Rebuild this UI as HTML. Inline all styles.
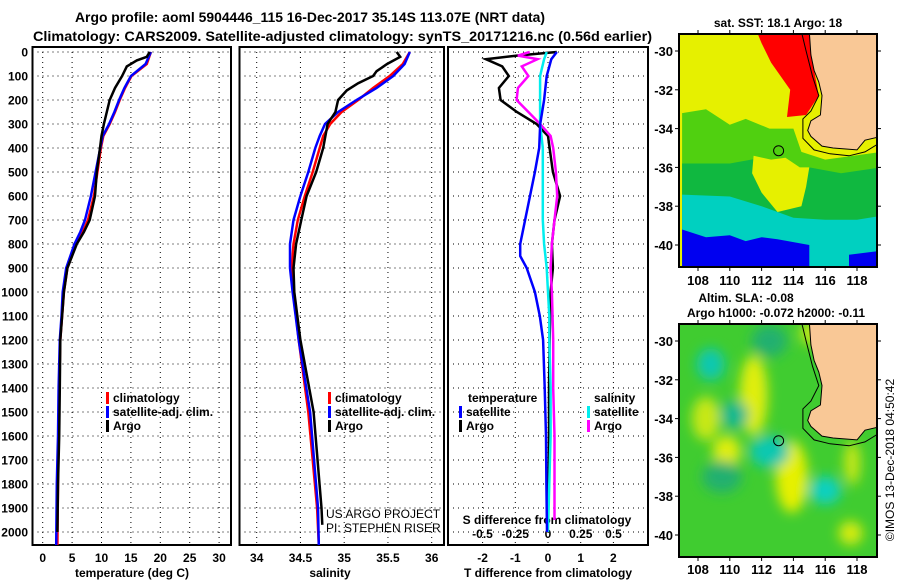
<!DOCTYPE html>
<html><head><meta charset="utf-8"><style>
html,body{margin:0;padding:0;background:#fff;}
svg text{font-family:"Liberation Sans",sans-serif;}
</style></head><body>
<svg id="chart" width="900" height="580" viewBox="0 0 900 580" xmlns="http://www.w3.org/2000/svg">
<text x="75" y="22" font-size="14" font-weight="bold" textLength="470" lengthAdjust="spacingAndGlyphs">Argo profile: aoml 5904446_115 16-Dec-2017 35.14S 113.07E (NRT data)</text>
<text x="33" y="41" font-size="14" font-weight="bold" textLength="619" lengthAdjust="spacingAndGlyphs">Climatology: CARS2009. Satellite-adjusted climatology: synTS_20171216.nc (0.56d earlier)</text>
<g id="g"></g>
</svg>
<script>
// ---- data ----
const depthTicks=[0,100,200,300,400,500,600,700,800,900,1000,1100,1200,1300,1400,1500,1600,1700,1800,1900,2000];
const tTicks=[0,5,10,15,20,25,30];
const sTicks=[34,34.5,35,35.5,36];
const sTickLabels=["34","34.5","35","35.5","36"];
const dTTicks=[-2,-1,0,1,2];
const dSTicks=[-0.5,-0.25,0,0.25,0.5];
const dSTickLabels=["-0.5","-0.25","0","0.25","0.5"];

const tArgoDepth=[0,20,35,60,100,150,200,250,300,350,400,500,600,700,750,800,900,1000,1100,1200,1400,1600,1800,2000];
const tArgo=[18.2,17.7,16,14.3,13.5,12.3,11.4,10.9,10.4,10,9.75,9.2,8.9,8.0,7.0,5.8,4.2,3.6,3.3,3.0,2.9,2.8,2.6,2.5];
const tClimDepth=[0,50,100,150,200,250,300,350,400,500,600,700,750,800,900,1000,1100,1200,1400,1600,1800,2054];
const tClim=[18.4,17.7,15.1,14,13.1,12.3,11.4,10.3,9.9,9.3,8.7,7.7,6.8,5.7,4.2,3.6,3.3,3.0,2.8,2.7,2.6,2.5];
const tSat=[18.4,17.5,15,13.9,13,12.2,11.3,10.2,9.8,9.0,8.2,7.2,6.4,5.4,4.0,3.4,3.2,2.9,2.7,2.6,2.4,2.3];

const sArgoDepth=[0,20,50,80,100,130,160,200,250,300,400,450,500,600,700,800,900,1000,1200,1500,1900,1970];
const sArgo=[35.6,35.64,35.49,35.37,35.33,35.16,35.03,34.93,34.9,34.81,34.76,34.72,34.68,34.57,34.51,34.45,34.42,34.43,34.5,34.65,34.74,34.75];
const sClimDepth=[0,50,100,150,200,250,300,350,400,500,600,700,800,900,1000,1200,1500,1900,2054];
const sClim=[35.75,35.67,35.52,35.33,35.16,34.97,34.84,34.76,34.72,34.64,34.55,34.47,34.42,34.4,34.42,34.48,34.59,34.69,34.71];
const sSat=[35.75,35.69,35.56,35.37,35.14,34.93,34.78,34.72,34.67,34.59,34.5,34.42,34.38,34.38,34.41,34.48,34.61,34.7,34.71];

const dDepthA=[0,15,30,60,100,150,200,250,300,350,400,500,600,700,800,900,1000,1200,1400,1600,1800,1950];
const dTArgo=[0.27,-0.95,-1.9,-1.4,-1.2,-1.5,-1.45,-0.95,-0.35,0,0.05,0.15,0.37,0.2,0.12,0.15,0.08,0.05,0.03,0.03,0.02,0.0];
const dSArgo=[-0.14,-0.23,-0.08,-0.2,-0.15,-0.23,-0.24,-0.15,-0.06,0.02,0.04,0.06,0.07,0.05,0.03,0.02,0.03,0.04,0.04,0.05,0.05,0.05];
const dDepthS=[0,30,100,200,300,400,500,600,700,800,850,900,1000,1100,1200,1400,1600,1800,2000];
const dTSat=[0.27,0.1,-0.04,-0.12,-0.24,-0.27,-0.4,-0.55,-0.7,-0.85,-0.85,-0.65,-0.4,-0.25,-0.15,-0.1,-0.06,-0.05,-0.03];
const dSSat=[-0.01,-0.03,-0.06,-0.06,-0.06,-0.04,-0.04,-0.04,-0.04,-0.03,-0.02,-0.01,0.0,0.01,0.01,0.02,0.02,0.01,0.0];

const lonTicks=[108,110,112,114,116,118];
const latTicks=[-30,-32,-34,-36,-38,-40];

// ---- helpers ----
const NS="http://www.w3.org/2000/svg";
const G=document.getElementById('g');
function el(tag,attrs,parent){const e=document.createElementNS(NS,tag);for(const k in attrs)e.setAttribute(k,attrs[k]);(parent||G).appendChild(e);return e;}
function txt(s,x,y,opts,parent){const t=el('text',Object.assign({x:x,y:y,'font-size':12,'font-weight':'bold'},opts||{}),parent);t.textContent=s;return t;}

const TOP=52,BOT=545,PPD=0.24;
const yD=d=>TOP+d*PPD;
const xT=t=>42.7+5.88*t;
const xS=s=>256.7+87.5*(s-34);
const xDT=v=>548+32.7*v;
const xDS=v=>548+131*v;
const panels=[[32.5,231],[239.5,444],[448,648]];

// frames + grids
panels.forEach((p,i)=>{
  const fr=el('rect',{x:p[0],y:TOP-5,width:p[1]-p[0],height:BOT-TOP+5,fill:'none',stroke:'#000','stroke-width':2});
  
  
  depthTicks.forEach(d=>{
    const l=el('line',{x1:p[0],x2:p[1],y1:yD(d),y2:yD(d),stroke:'#000','stroke-width':1,'stroke-dasharray':'1,4'});
    
    
  });
});
tTicks.forEach(t=>{
  const l=el('line',{x1:xT(t),x2:xT(t),y1:TOP-5,y2:BOT,stroke:'#000','stroke-dasharray':'1,4'});
  
  
  const tt=txt(String(t),xT(t),562,{'text-anchor':'middle'});
  
  
});
sTicks.forEach((s,i)=>{
  const l=el('line',{x1:xS(s),x2:xS(s),y1:TOP-5,y2:BOT,stroke:'#000','stroke-dasharray':'1,4'});
  
  
  const tt=txt(sTickLabels[i],xS(s),562,{'text-anchor':'middle'});
  
  
});
dTTicks.forEach(v=>{
  const l=el('line',{x1:xDT(v),x2:xDT(v),y1:TOP-5,y2:BOT,stroke:'#000','stroke-dasharray':'1,4'});
  
  
  const tt=txt(String(v),xDT(v),562,{'text-anchor':'middle'});
  
  
});
dSTicks.forEach((v,i)=>{
  const tt=txt(dSTickLabels[i],xDS(v),538,{'text-anchor':'middle'});
  
  
});
depthTicks.forEach(d=>{
  const tt=txt(String(d),28,yD(d)+4.5,{'text-anchor':'end'});
  
  
});
[['temperature (deg C)',132,577,'temp-axis-title'],['salinity',330,577,'sal-axis-title'],['T difference from climatology',548,577,'dt-axis-title'],['S difference from climatology',547,524,'ds-axis-title']].forEach(a=>{
  const tt=txt(a[0],a[1],a[2],{'text-anchor':'middle'});
  
  
});

// series
function series(depths,vals,xf,color,name,w){
  const pts=depths.map((d,i)=>xf(vals[i]).toFixed(1)+','+yD(d).toFixed(1)).join(' ');
  const pl=el('polyline',{points:pts,fill:'none',stroke:color,'stroke-width':w||2.5,'stroke-linejoin':'miter'});
  
  
}
series(tClimDepth,tClim,xT,'#ff0000','temp-climatology-line');
series(tClimDepth,tSat,xT,'#0000ff','temp-satellite-line');
series(tArgoDepth,tArgo,xT,'#000','temp-argo-line');
series(sClimDepth,sClim,xS,'#ff0000','sal-climatology-line');
series(sClimDepth,sSat,xS,'#0000ff','sal-satellite-line');
series(sArgoDepth,sArgo,xS,'#000','sal-argo-line');
series(dDepthA,dTArgo,xDT,'#000','dt-argo-line');
series(dDepthA,dSArgo,xDS,'#ff00ff','ds-argo-line');
series(dDepthS,dSSat,xDS,'#00eeee','ds-satellite-line');
series(dDepthS,dTSat,xDT,'#0000ff','dt-satellite-line');

// legends
function leg(x,y,color,label,name){
  const r=el('rect',{x:x,y:y-10,width:3,height:12,fill:color});
  
  
  const t=txt(label,x+7,y);
  
  
}
[[106,'#ff0000','climatology'],[106,'#0000ff','satellite-adj. clim.'],[106,'#000','Argo']].forEach((a,i)=>leg(a[0],402+i*14,a[1],a[2],'temp-legend-entry'));
[[328,'#ff0000','climatology'],[328,'#0000ff','satellite-adj. clim.'],[328,'#000','Argo']].forEach((a,i)=>leg(a[0],402+i*14,a[1],a[2],'sal-legend-entry'));
let lt=txt('temperature',468,402);
leg(459,416,'#0000ff','satellite','diff-legend-temp-satellite');
leg(459,430,'#000','Argo','diff-legend-temp-argo');
let ls=txt('salinity',594,402);
leg(587,416,'#00eeee','satellite','diff-legend-sal-satellite');
leg(587,430,'#ff00ff','Argo','diff-legend-sal-argo');
[['US ARGO PROJECT',518],['PI: STEPHEN RISER',532]].forEach(a=>{
  const t=txt(a[0],326,a[1],{'font-weight':'normal'});
  
  
});

// ---- maps ----
const defs=el('defs',{});
const flt=el('filter',{id:'blur',x:'-50%',y:'-50%',width:'200%',height:'200%'},defs);
el('feGaussianBlur',{stdDeviation:6},flt);
function map(x0,y0,w,h,lat30y,lat40y,name){
  const lx=lon=>698+(lon-108)*15.9;
  const ly=lat=>lat30y+(-30-lat)*(lat40y-lat30y)/10;
  const cp=el('clipPath',{id:'clip'+name},defs);
  el('rect',{x:x0,y:y0,width:w,height:h},cp);
  const g=el('g',{'clip-path':'url(#clip'+name+')'});
  
  
  const P=arr=>arr.map(p=>lx(p[0]).toFixed(1)+','+ly(p[1]).toFixed(1)).join(' ');
  return {g,lx,ly,P};
}
function mapFrame(x0,y0,w,h,m,labY,name){
  const fr=el('rect',{x:x0,y:y0,width:w,height:h,fill:'none',stroke:'#000','stroke-width':2});
  
  
  lonTicks.forEach(l=>{
    el('line',{x1:m.lx(l),x2:m.lx(l),y1:y0-4,y2:y0,stroke:'#000'});
    el('line',{x1:m.lx(l),x2:m.lx(l),y1:y0+h,y2:y0+h+4,stroke:'#000'});
    const t=txt(String(l),m.lx(l),labY,{'text-anchor':'middle','font-size':13});
    
    
  });
  latTicks.forEach(l=>{
    el('line',{x1:x0-4,x2:x0,y1:m.ly(l),y2:m.ly(l),stroke:'#000'});
    el('line',{x1:x0+w,x2:x0+w+4,y1:m.ly(l),y2:m.ly(l),stroke:'#000'});
    const t=txt(String(l),x0-6,m.ly(l)+5,{'text-anchor':'end','font-size':13});
    
    
  });
}
const land=[[115,-29],[119.5,-29],[119.5,-34.4],[118.5,-34.6],[118,-35.1],[116.5,-35],[115.8,-34.9],[115.1,-34.4],[114.9,-34.1],[115.1,-33.6],[115.7,-33.3],[115.8,-32.3],[115.6,-31.6],[115.3,-31],[115.1,-30.2]];
const contour=[[114.5,-29],[114.8,-30],[115.2,-31.3],[115.6,-32.3],[115.1,-33.1],[114.6,-33.5],[114.6,-34.5],[115.3,-35.1],[116.3,-35.3],[117.5,-35.4],[118.5,-35.2],[119.3,-34.8]];

// map 1 (SST)
{
  const m=map(679,34,198,233,51,245,'sst-map');
  const g=m.g;
  el('rect',{x:679,y:34,width:198,height:233,fill:'#e6f000'},g);
  el('polygon',{points:m.P([[107,-33.2],[108.5,-33],[110,-33.8],[111,-33.5],[112.5,-34],[114,-34],[114.5,-35.2],[116,-35.6],[119.5,-35.2],[119.5,-41.5],[107,-41.5]]),fill:'#50d010'},g);
  el('polygon',{points:m.P([[107,-35.8],[110,-35.8],[112,-35.5],[113,-36.8],[114,-37.2],[115,-36],[117,-36.3],[119.5,-36],[119.5,-41.5],[107,-41.5]]),fill:'#10b840'},g);
  el('polygon',{points:m.P([[111.5,-35.4],[112.6,-35.6],[113.5,-35.5],[114.4,-36],[115,-36],[114.8,-37],[114.5,-38],[113,-38.3],[112,-37.3],[111.4,-36.3]]),fill:'#e6f000'},g);
  el('polygon',{points:m.P([[107,-37.4],[110,-37.5],[112,-38],[114,-38.6],[116,-38.7],[118,-38.7],[119.5,-38.5],[119.5,-41.5],[107,-41.5]]),fill:'#00d0c0'},g);
  el('polygon',{points:m.P([[107,-39.2],[108.5,-39.6],[110,-39.5],[111,-39.8],[112,-39.6],[113,-39.7],[115,-40],[115,-41.5],[107,-41.5]]),fill:'#0000f0'},g);
  el('polygon',{points:m.P([[117.5,-40.5],[119.5,-40.3],[119.5,-41.5],[117.5,-41.5]]),fill:'#0000f0'},g);
  el('polygon',{points:m.P([[111.7,-29],[115,-29],[115.3,-31],[115.6,-32.3],[114.8,-33.3],[113.6,-33.4],[113.8,-32],[112.6,-30.6],[112,-29.6]]),fill:'#ff0000'},g);
  el('polygon',{points:m.P(land),fill:'#f9c896',stroke:'#000','stroke-width':1},g);
  el('polyline',{points:m.P(contour),fill:'none',stroke:'#000','stroke-width':1},g);
  const c=el('circle',{cx:m.lx(113.07),cy:m.ly(-35.14),r:5,fill:'none',stroke:'#000','stroke-width':1});
  
  
  mapFrame(679,34,198,233,m,285,'sst-map');
  const t=txt('sat. SST: 18.1 Argo: 18',778,27,{'text-anchor':'middle'});
  
  
}
// map 2 (SLA)
{
  const m=map(679,324,198,233,341,535,'sla-map');
  const g=m.g;
  el('rect',{x:679,y:324,width:198,height:233,fill:'#40cc30'},g);
  const bl=el('g',{filter:'url(#blur)'},g);
  const blobs=[[111.5,-32.8,14,40,'#e0ee10'],[108.5,-34,14,22,'#c8e818'],[109.8,-35.7,14,16,'#e0ee10'],[113.9,-37,16,36,'#e6f000'],[117.7,-36.3,8,22,'#c8e818'],[117.6,-39.9,12,12,'#d8ec10'],[108.8,-31.2,14,16,'#10c8b0'],[110.3,-33.8,14,14,'#10b890'],[112.5,-35.7,20,16,'#10c8b0'],[116,-37.7,16,14,'#10d0c0'],[109.5,-37,20,16,'#20b070'],[112.5,-30,18,16,'#20b070'],[115.2,-29.6,12,12,'#c8e818']];
  blobs.forEach(b=>el('ellipse',{cx:m.lx(b[0]),cy:m.ly(b[1]),rx:b[2],ry:b[3],fill:b[4]},bl));
  el('polygon',{points:m.P(land),fill:'#f9c896',stroke:'#000','stroke-width':1},g);
  el('polyline',{points:m.P(contour),fill:'none',stroke:'#000','stroke-width':1},g);
  const c=el('circle',{cx:m.lx(113.07),cy:m.ly(-35.14),r:5,fill:'none',stroke:'#000','stroke-width':1});
  
  
  mapFrame(679,324,198,233,m,574,'sla-map');
  const t1=txt('Altim. SLA: -0.08',746,302,{'text-anchor':'middle'});
  
  
  const t2=txt('Argo h1000: -0.072 h2000: -0.11',776,317,{'text-anchor':'middle'});
  
  
  const t3=txt('©IMOS 13-Dec-2018 04:50:42',0,0,{'font-weight':'normal','text-anchor':'middle',transform:'translate(894,460) rotate(-90)'});
  
  
}
</script>
</body></html>
